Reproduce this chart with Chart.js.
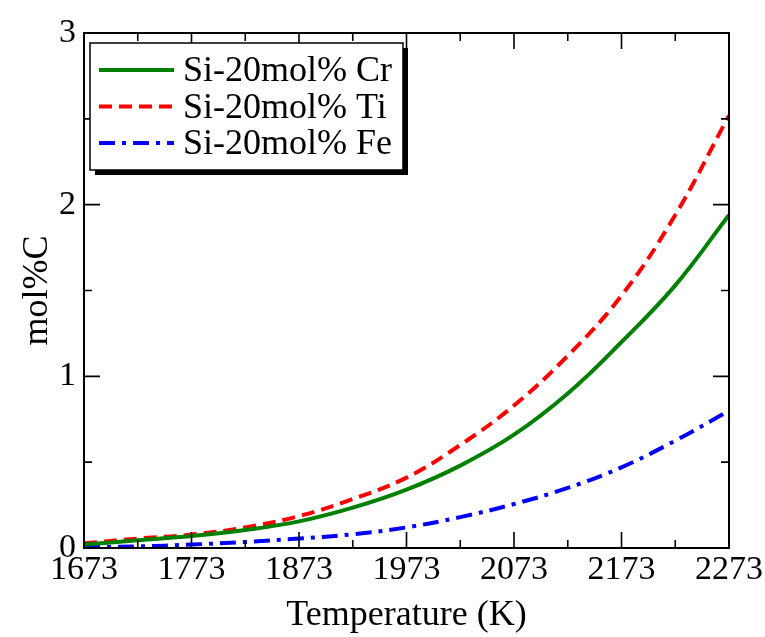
<!DOCTYPE html>
<html>
<head>
<meta charset="utf-8">
<script src="https://cdn.jsdelivr.net/npm/chart.js@4.4.1/dist/chart.umd.min.js"></script>
<style>
  html, body { margin: 0; padding: 0; background: #fff; }
  #wrap { width: 765px; height: 637px; position: relative; }
</style>
</head>
<body>
<div id="wrap"><canvas id="c" width="765" height="637"></canvas></div>
<script>
// ---- data ----
const temperatures = [1673, 1723, 1773, 1823, 1873, 1923, 1973, 2023, 2073, 2123, 2173, 2223, 2273];
const crValues = [0.02, 0.045, 0.07, 0.105, 0.155, 0.235, 0.34, 0.48, 0.66, 0.90, 1.2, 1.53, 1.94];
const tiValues = [0.027, 0.055, 0.078, 0.12, 0.186, 0.285, 0.41, 0.60, 0.83, 1.12, 1.47, 1.94, 2.52];
const feValues = [0.005, 0.009, 0.02, 0.035, 0.055, 0.08, 0.12, 0.18, 0.256, 0.35, 0.47, 0.625, 0.80];
const seriesLabels = ['Si-20mol% Cr', 'Si-20mol% Ti', 'Si-20mol% Fe'];
const xMajorTicks = [1673, 1773, 1873, 1973, 2073, 2173, 2273];
const xMinorTicks = [1723, 1823, 1923, 2023, 2123, 2223];
const yMajorTicks = [0, 1, 2, 3];
const yMinorTicks = [0.5, 1.5, 2.5];
const xTitle = 'Temperature (K)';
const yTitle = 'mol%C';

const FONT = "'Liberation Serif', 'Times New Roman', serif";

const toPts = vals => temperatures.map((t, i) => ({ x: t, y: vals[i] }));

const frameAndTicks = {
  id: 'frameAndTicks',
  afterDatasetsDraw(chart) {
    const { ctx, chartArea: a, scales } = chart;
    const xs = scales.x, ys = scales.y;
    ctx.save();
    ctx.strokeStyle = '#000';
    ctx.lineWidth = 2;
    ctx.strokeRect(a.left, a.top, a.right - a.left, a.bottom - a.top);
    ctx.lineWidth = 1.6;
    const MAJ = 16, MIN = 8;
    const drawX = (v, len) => {
      const p = xs.getPixelForValue(v);
      ctx.beginPath();
      ctx.moveTo(p, a.bottom); ctx.lineTo(p, a.bottom - len);
      ctx.moveTo(p, a.top); ctx.lineTo(p, a.top + len);
      ctx.stroke();
    };
    const drawY = (v, len) => {
      const p = ys.getPixelForValue(v);
      ctx.beginPath();
      ctx.moveTo(a.left, p); ctx.lineTo(a.left + len, p);
      ctx.moveTo(a.right, p); ctx.lineTo(a.right - len, p);
      ctx.stroke();
    };
    xMajorTicks.forEach(v => drawX(v, MAJ));
    xMinorTicks.forEach(v => drawX(v, MIN));
    yMajorTicks.forEach(v => drawY(v, MAJ));
    yMinorTicks.forEach(v => drawY(v, MIN));
    ctx.restore();
  },
  afterDraw(chart) {
    // legend box
    const { ctx, chartArea: a } = chart;
    ctx.save();
    const bx = a.left + 6, by = a.top + 10, bw = 313, bh = 127, sh = 5;
    ctx.fillStyle = '#000';
    ctx.fillRect(bx + sh, by + sh, bw, bh);
    ctx.fillStyle = '#fff';
    ctx.fillRect(bx, by, bw, bh);
    ctx.strokeStyle = '#000';
    ctx.lineWidth = 1.5;
    ctx.strokeRect(bx, by, bw, bh);
    ctx.font = '36px ' + FONT;
    ctx.textBaseline = 'middle';
    chart.data.datasets.forEach((ds, i) => {
      const yy = by + 27 + i * 36.5;
      ctx.strokeStyle = ds.borderColor;
      ctx.lineWidth = ds.borderWidth;
      ctx.setLineDash(ds.borderDash || []);
      ctx.beginPath();
      ctx.moveTo(bx + 9, yy); ctx.lineTo(bx + 84, yy);
      ctx.stroke();
      ctx.setLineDash([]);
      ctx.fillStyle = '#000';
      ctx.fillText(ds.label, bx + 93, yy + 2);
    });
    ctx.restore();
  }
};

new Chart(document.getElementById('c'), {
  type: 'line',
  data: {
    datasets: [
      { label: seriesLabels[0], data: toPts(crValues), borderColor: '#008000', borderWidth: 4, pointRadius: 0, tension: 0.4, fill: false },
      { label: seriesLabels[1], data: toPts(tiValues), borderColor: '#ff0000', borderWidth: 4, borderDash: [13, 7], pointRadius: 0, tension: 0.4, fill: false },
      { label: seriesLabels[2], data: toPts(feValues), borderColor: '#0000ff', borderWidth: 4, borderDash: [16, 7, 4, 7], pointRadius: 0, tension: 0.4, fill: false }
    ]
  },
  options: {
    responsive: false,
    animation: false,
    devicePixelRatio: 1,
    layout: { padding: { top: 33, right: 36, left: 0, bottom: 0 } },
    plugins: { legend: { display: false }, tooltip: { enabled: false } },
    scales: {
      x: {
        type: 'linear', min: 1673, max: 2273,
        afterBuildTicks: s => { s.ticks = xMajorTicks.map(v => ({ value: v })); },
        afterFit: s => { s.height = 89; },
        grid: { display: false, drawTicks: false },
        border: { display: false },
        ticks: { color: '#000', font: { family: FONT, size: 34 }, padding: 2, maxRotation: 0, autoSkip: false, callback: v => String(v) },
        title: { display: true, text: xTitle, color: '#000', font: { family: FONT, size: 36 }, padding: { top: 0, bottom: 0 } }
      },
      y: {
        type: 'linear', min: 0, max: 3,
        afterBuildTicks: s => { s.ticks = yMajorTicks.map(v => ({ value: v })); },
        afterFit: s => { s.width = 84; },
        grid: { display: false, drawTicks: false },
        border: { display: false },
        ticks: { color: '#000', font: { family: FONT, size: 34 }, padding: 8, callback: v => String(v) },
        title: { display: true, text: yTitle, color: '#000', font: { family: FONT, size: 36 }, padding: { top: 16, bottom: 0 } }
      }
    }
  },
  plugins: [frameAndTicks]
});
</script>
</body>
</html>
